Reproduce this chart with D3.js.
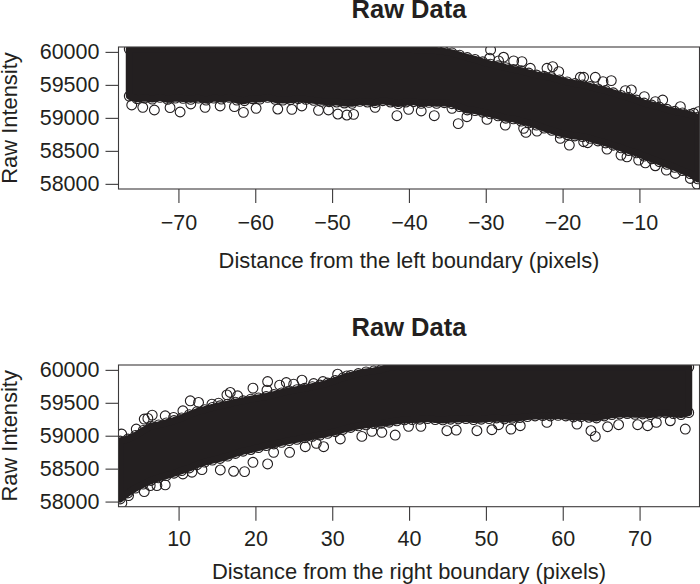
<!DOCTYPE html>
<html>
<head>
<meta charset="utf-8">
<script src="https://cdn.jsdelivr.net/npm/d3@7"></script>
<style>
  html, body { margin: 0; padding: 0; background: #fff; }
  svg { display: block; }
</style>
</head>
<body>
<script>
var chartTitle = "Raw Data";
var yLabel = "Raw Intensity";
var xLabelLeft = "Distance from the left boundary (pixels)";
var xLabelRight = "Distance from the right boundary (pixels)";

var yTicks = [58000, 58500, 59000, 59500, 60000];
var xTicksLeft = [-70, -60, -50, -40, -30, -20, -10];
var xTicksRight = [10, 20, 30, 40, 50, 60, 70];

// left panel: the solid band
var leftBandX = [-76.4,-75.4,-74.4,-73.4,-72.4,-71.4,-70.4,-69.4,-68.4,-67.4,-66.4,-65.4,-64.4,-63.4,-62.4,-61.4,-60.4,-59.4,-58.4,-57.4,-56.4,-55.4,-54.4,-53.4,-52.4,-51.4,-50.4,-49.4,-48.4,-47.4,-46.4,-45.4,-44.4,-43.4,-42.4,-41.4,-40.4,-39.4,-38.4,-37.4,-36.4,-35.4,-34.4,-33.4,-32.4,-31.4,-30.4,-29.4,-28.4,-27.4,-26.4,-25.4,-24.4,-23.4,-22.4,-21.4,-20.4,-19.4,-18.4,-17.4,-16.4,-15.4,-14.4,-13.4,-12.4,-11.4,-10.4,-9.4,-8.4,-7.4,-6.4,-5.4,-4.4,-3.4,-2.4];
var leftBandLow = [59330,59290,59300,59285,59310,59280,59300,59295,59280,59300,59270,59300,59285,59310,59270,59260,59290,59285,59310,59280,59270,59275,59290,59280,59265,59250,59245,59240,59225,59220,59250,59240,59230,59260,59240,59215,59240,59245,59220,59235,59220,59230,59215,59170,59120,59110,59085,59060,59030,58995,58985,58950,58925,58890,58845,58810,58770,58745,58725,58715,58690,58650,58620,58585,58545,58505,58470,58420,58380,58335,58295,58250,58200,58155,58075];
var leftBandHigh = [60040,60040,60040,60040,60040,60040,60040,60040,60040,60040,60040,60040,60040,60040,60040,60040,60040,60040,60040,60040,60040,60040,60040,60040,60040,60040,60040,60040,60040,60040,60040,60040,60040,60040,60040,60040,60040,60035,60030,60025,60020,60005,59985,59950,59915,59885,59850,59815,59790,59760,59735,59715,59680,59650,59630,59610,59575,59545,59520,59500,59475,59440,59415,59380,59340,59310,59270,59225,59195,59165,59130,59100,59075,59050,59010];

// left panel: single circles standing clear of the band
var leftOutX = [-76.08,-74.64,-73.13,-71.09,-69.78,-68.39,-66.53,-64.57,-62.71,-61.54,-59.89,-57.07,-55.24,-53.94,-51.77,-50.47,-49.25,-48.08,-47.2,-44.4,-41.56,-40.04,-38.4,-36.7,-34.4,-33.58,-32.45,-29.84,-27.46,-25.07,-24.77,-23.33,-20.3,-19.12,-17.26,-16.74,-14.22,-12.4,-11.62,-10.1,-9.23,-7.93,-6.49,-5.32,-3.37,-2.5,-29.37,-29.5,-28.33,-27.68,-26.37,-25.29,-24.2,-22.03,-21.29,-20.5,-17.69,-17.26,-15.74,-14.74,-13.66,-11.83,-11.05,-9.36,-7.93,-6.97,-4.67,-2.94,-2.3];
var leftOutY = [59195,59160,59119,59155,59089,59210,59160,59180,59170,59084,59145,59134,59129,59180,59114,59119,59058,59043,59053,59160,59033,59129,59104,59033,59144,58912,59018,58977,58891,58841,58780,58800,58689,58588,58638,58623,58527,58436,58410,58360,58319,58274,58208,58157,58081,57995,60030,59904,59863,59919,59863,59853,59752,59752,59777,59701,59615,59615,59615,59549,59565,59413,59423,59322,59246,59271,59170,59069,59094];

// right panel: the solid band
var rightBandX = [2.4,3.4,4.4,5.4,6.4,7.4,8.4,9.4,10.4,11.4,12.4,13.4,14.4,15.4,16.4,17.4,18.4,19.4,20.4,21.4,22.4,23.4,24.4,25.4,26.4,27.4,28.4,29.4,30.4,31.4,32.4,33.4,34.4,35.4,36.4,37.4,38.4,39.4,40.4,41.4,42.4,43.4,44.4,45.4,46.4,47.4,48.4,49.4,50.4,51.4,52.4,53.4,54.4,55.4,56.4,57.4,58.4,59.4,60.4,61.4,62.4,63.4,64.4,65.4,66.4,67.4,68.4,69.4,70.4,71.4,72.4,73.4,74.4,75.4,76.4];
var rightBandLow = [58040,58130,58205,58265,58320,58360,58395,58430,58470,58510,58560,58600,58630,58655,58690,58730,58765,58790,58820,58850,58875,58900,58925,58945,58970,58990,59010,59035,59060,59095,59125,59150,59165,59185,59190,59205,59225,59240,59245,59250,59260,59245,59240,59250,59255,59260,59245,59250,59260,59270,59255,59265,59275,59290,59300,59305,59300,59310,59300,59285,59290,59280,59270,59300,59320,59330,59335,59325,59330,59320,59340,59345,59335,59320,59350];
var rightBandHigh = [58920,58950,59005,59080,59145,59165,59195,59230,59270,59320,59365,59395,59430,59455,59480,59510,59530,59555,59575,59595,59625,59650,59680,59700,59720,59745,59770,59800,59840,59880,59915,59945,59970,59985,60005,60040,60040,60040,60040,60040,60040,60040,60040,60040,60040,60040,60040,60040,60040,60040,60040,60040,60040,60040,60040,60040,60040,60040,60040,60040,60040,60040,60040,60040,60040,60040,60040,60040,60040,60040,60040,60040,60040,60040,60040];

// right panel: single circles
var rightOutX = [2.6,4.49,5.53,6.0,6.57,8.26,9.35,10.56,11.52,12.6,14.34,15.2,16.29,16.73,17.68,19.68,21.59,21.5,23.15,24.02,24.98,26.06,27.58,28.79,30.7,31.9,2.62,3.49,5.53,6.31,7.18,8.26,10.56,11.74,13.04,15.43,17.16,18.59,19.68,21.59,22.37,24.45,26.49,27.93,28.88,31.05,33.85,35.16,36.46,38.19,39.93,41.54,44.92,46.14,48.83,50.78,51.65,53.26,54.47,57.94,61.85,63.67,64.24,65.84,67.27,69.75,71.05,72.18,74,75.95];
var rightOutY = [59025,59101,59253,59263,59313,59303,59278,59379,59530,59505,59480,59495,59621,59657,59606,59722,59823,59692,59768,59808,59783,59843,59793,59823,59934,59909,57980,58091,58152,58243,58243,58253,58419,58445,58485,58480,58460,58455,58596,58571,58748,58748,58833,58884,58833,58950,58990,59066,59051,59010,59142,59142,59076,59086,59076,59091,59167,59101,59152,59202,59177,59076,58990,59136,59167,59167,59152,59202,59227,59101];

var ink = "#231f20";
var w = 700, h = 584;

var svg = d3.select("body").append("svg")
    .attr("width", w)
    .attr("height", h)
    .attr("font-family", "'Liberation Sans', Arial, sans-serif")
    .attr("fill", ink);

function drawPanel(id, top, bottom, xDomain, xTicks, xLabel, bandX, bandLow, bandHigh, outX, outY, titleY, tickY, labelY) {
    var x = d3.scaleLinear().domain(xDomain).range([118.5, 699.5]);
    var y = d3.scaleLinear().domain([57922, 60074]).range([bottom, top]);

    svg.append("clipPath").attr("id", id)
      .append("rect")
        .attr("x", 118.5).attr("y", top)
        .attr("width", 581).attr("height", bottom - top);

    var plot = svg.append("g").attr("clip-path", "url(#" + id + ")");

    var area = d3.area()
        .x(function(d) { return x(d); })
        .y0(function(d, i) { return y(bandLow[i]); })
        .y1(function(d, i) { return y(bandHigh[i]); });

    // circles along both band edges, then the loose ones
    var edge = [];
    bandX.forEach(function(d, i) {
        edge.push([d, bandLow[i]]);
        edge.push([d, bandHigh[i]]);
    });
    outX.forEach(function(d, i) { edge.push([d, outY[i]]); });

    plot.selectAll("circle")
        .data(edge)
        .enter()
        .append("circle")
        .attr("cx", function(d) { return x(d[0]); })
        .attr("cy", function(d) { return y(d[1]); })
        .attr("r", 4.9)
        .attr("fill", "none")
        .attr("stroke", ink)
        .attr("stroke-width", 1.1);

    // thick stroke so the band reaches most of the way out to the ring edge
    plot.append("path").datum(bandX)
        .attr("d", area)
        .attr("fill", ink)
        .attr("stroke", ink)
        .attr("stroke-width", 7)
        .attr("stroke-linejoin", "round");

    svg.append("rect")
        .attr("x", 118.5).attr("y", top)
        .attr("width", 581).attr("height", bottom - top)
        .attr("fill", "none")
        .attr("stroke", "#3c3a3b")
        .attr("stroke-width", 1.1);

    var yAxis = svg.append("g")
        .attr("transform", "translate(118.5,0)")
        .call(d3.axisLeft(y).tickValues(yTicks).tickFormat(d3.format("d")).tickSize(13).tickPadding(6));
    var xAxis = svg.append("g")
        .attr("transform", "translate(0," + bottom + ")")
        .call(d3.axisBottom(x).tickValues(xTicks).tickFormat(function(d) { return d3.format("d")(d); }).tickSize(14).tickPadding(0));

    [yAxis, xAxis].forEach(function(a) {
        a.select(".domain").remove();
        a.selectAll("line").attr("stroke", "#3c3a3b").attr("stroke-width", 1.1);
        a.selectAll("text")
            .attr("font-family", "'Liberation Sans', Arial, sans-serif")
            .attr("font-size", 21.5)
            .attr("fill", ink);
    });
    xAxis.selectAll("text").attr("y", tickY - bottom).attr("dy", 0);

    svg.append("text")
        .attr("x", 409).attr("y", titleY)
        .attr("text-anchor", "middle")
        .attr("font-size", 25.5)
        .attr("font-weight", "bold")
        .text(chartTitle);

    svg.append("text")
        .attr("x", 409).attr("y", labelY)
        .attr("text-anchor", "middle")
        .attr("font-size", 21.9)
        .text(xLabel);

    svg.append("text")
        .attr("transform", "translate(17," + (top + bottom) / 2 + ") rotate(-90)")
        .attr("text-anchor", "middle")
        .attr("font-size", 21.9)
        .text(yLabel);
}

drawPanel("clipLeft", 47, 189, [-77.8, -2.18], xTicksLeft, xLabelLeft,
    leftBandX, leftBandLow, leftBandHigh, leftOutX, leftOutY, 17.5, 230, 268);
drawPanel("clipRight", 365, 506.7, [2.18, 77.8], xTicksRight, xLabelRight,
    rightBandX, rightBandLow, rightBandHigh, rightOutX, rightOutY, 335.7, 546, 579);
</script>
</body>
</html>
